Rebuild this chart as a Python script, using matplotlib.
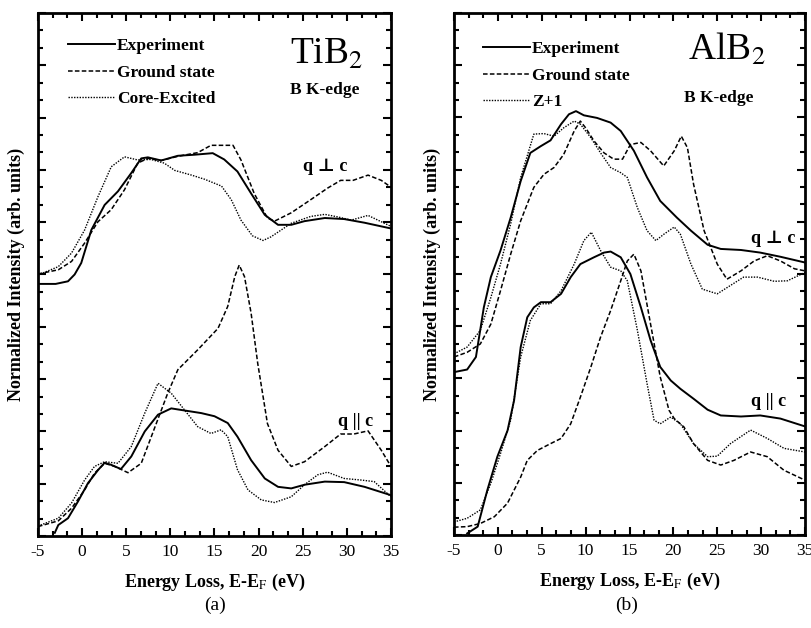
import matplotlib
matplotlib.use('Agg')
import matplotlib.pyplot as plt
from matplotlib.ticker import MultipleLocator, NullFormatter

plt.rcParams['font.family'] = ['Liberation Serif', 'DejaVu Serif']
plt.rcParams['mathtext.fontset'] = 'stix'
plt.rcParams['axes.unicode_minus'] = False
plt.rcParams['lines.solid_joinstyle'] = 'round'
plt.rcParams['lines.dash_joinstyle'] = 'round'

# ---- TiB2, B K-edge ----
# q perp c
ti_perp_exp_x = [-5, -3.0, -1.6, -0.85, -0.1, 1.04, 2.55, 4.06, 5.57, 6.7, 7.45, 8.96, 10.85, 12.7, 14.8, 16.1, 17.6, 19.15, 20.7, 22.2, 23.7, 25.2, 27.5, 29.7, 32, 35]
ti_perp_exp_y = [4.82, 4.82, 4.87, 5.0, 5.22, 5.85, 6.33, 6.59, 6.94, 7.22, 7.24, 7.18, 7.27, 7.29, 7.32, 7.2, 6.97, 6.55, 6.14, 5.95, 5.95, 6.02, 6.08, 6.06, 5.99, 5.88]
ti_perp_gs_x = [-5, -2.7, -1.2, 0.28, 1.8, 3.3, 4.8, 6.3, 7.45, 8.96, 10.85, 13.1, 14.6, 17.1, 18.0, 19.5, 21.0, 21.8, 23.7, 25.9, 27.8, 29.3, 30.7, 32.4, 33.9, 35]
ti_perp_gs_y = [5.01, 5.09, 5.25, 5.6, 6.01, 6.24, 6.62, 7.13, 7.22, 7.18, 7.26, 7.33, 7.47, 7.47, 7.19, 6.55, 6.08, 6.02, 6.18, 6.43, 6.65, 6.8, 6.8, 6.9, 6.8, 6.67]
ti_perp_ce_x = [-5, -2.7, -1.2, 0.28, 1.8, 3.3, 4.8, 6.3, 7.8, 9.3, 10.5, 12.4, 13.9, 15.8, 16.9, 18.0, 19.3, 20.5, 21.4, 23.7, 25.9, 27.5, 29.0, 30.5, 32.4, 35]
ti_perp_ce_y = [4.99, 5.15, 5.41, 5.85, 6.49, 7.06, 7.25, 7.19, 7.2, 7.13, 6.99, 6.9, 6.82, 6.69, 6.43, 6.04, 5.74, 5.65, 5.72, 5.98, 6.11, 6.15, 6.1, 6.04, 6.13, 5.92]
# q || c
ti_par_exp_x = [-3.1, -2.7, -1.6, -0.47, 0.66, 1.8, 2.55, 3.3, 4.4, 5.57, 7.1, 8.6, 10.1, 11.6, 13.5, 15.0, 16.5, 17.6, 19.15, 20.7, 22.2, 23.7, 25.2, 27.5, 29.7, 32, 35]
ti_par_exp_y = [0.06, 0.21, 0.34, 0.66, 1.01, 1.26, 1.4, 1.36, 1.28, 1.52, 2.0, 2.32, 2.44, 2.4, 2.35, 2.29, 2.16, 1.9, 1.45, 1.1, 0.94, 0.91, 0.98, 1.04, 1.03, 0.94, 0.78]
ti_par_gs_x = [-5, -2.7, -1.2, 0.28, 1.4, 2.55, 3.7, 5.2, 6.7, 8.2, 9.7, 10.85, 13.1, 15.4, 16.5, 17.3, 17.8, 18.4, 19.15, 19.9, 21.0, 22.2, 23.7, 25.2, 27.5, 29.3, 30.8, 32.4, 33.9, 35]
ti_par_gs_y = [0.18, 0.29, 0.53, 0.88, 1.2, 1.39, 1.33, 1.21, 1.39, 2.06, 2.73, 3.18, 3.56, 3.97, 4.39, 4.96, 5.18, 4.96, 4.26, 3.3, 2.15, 1.64, 1.33, 1.42, 1.71, 1.95, 1.95, 2.01, 1.64, 1.33]
ti_par_ce_x = [-5, -2.7, -1.2, 0.28, 1.4, 2.55, 4.06, 5.57, 7.1, 8.6, 10.1, 11.6, 13.1, 14.6, 15.75, 16.5, 17.6, 18.8, 20.3, 21.8, 23.7, 25.2, 26.7, 27.8, 29.7, 31.6, 33.1, 35]
ti_par_ce_y = [0.19, 0.34, 0.63, 1.07, 1.33, 1.42, 1.39, 1.71, 2.35, 2.92, 2.73, 2.41, 2.09, 1.96, 2.03, 1.9, 1.27, 0.88, 0.69, 0.64, 0.75, 0.98, 1.17, 1.22, 1.1, 1.07, 1.04, 0.75]

# ---- AlB2, B K-edge ----
# q perp c
al_perp_exp_x = [-5, -3.5, -2.5, -1.6, -0.8, 0.3, 1.46, 2.6, 3.7, 4.9, 6.0, 7.2, 8.1, 8.9, 9.8, 11.3, 12.85, 14.0, 15.5, 17.0, 18.5, 20.4, 22.0, 23.9, 25.4, 27.7, 29.9, 32.2, 35]
al_perp_exp_y = [3.12, 3.17, 3.41, 4.36, 4.94, 5.45, 6.08, 6.78, 7.32, 7.45, 7.56, 7.87, 8.06, 8.12, 8.04, 7.99, 7.9, 7.74, 7.36, 6.85, 6.4, 6.08, 5.83, 5.56, 5.48, 5.46, 5.41, 5.33, 5.22]
al_perp_gs_x = [-5, -3.5, -2.0, -0.8, 0.3, 1.46, 2.6, 4.1, 5.25, 6.4, 7.5, 8.7, 9.4, 10.0, 10.95, 12.1, 13.2, 14.2, 15.1, 16.3, 17.4, 18.9, 20.1, 20.9, 21.6, 22.3, 23.5, 25.0, 26.1, 27.7, 29.2, 30.7, 32.2, 33.8, 35]
al_perp_gs_y = [3.41, 3.5, 3.66, 4.04, 4.68, 5.38, 6.02, 6.66, 6.91, 7.04, 7.29, 7.74, 7.93, 7.8, 7.55, 7.32, 7.2, 7.2, 7.48, 7.52, 7.36, 7.07, 7.36, 7.64, 7.42, 6.72, 5.83, 5.19, 4.9, 5.06, 5.25, 5.35, 5.25, 5.1, 5.06]
al_perp_z1_x = [-5, -3.5, -2.0, -0.8, 0.3, 1.46, 2.6, 4.1, 5.25, 6.4, 7.5, 8.7, 9.4, 10.6, 11.7, 12.85, 14.0, 14.75, 15.9, 17.0, 18.0, 18.9, 20.1, 20.8, 22.0, 23.3, 25.0, 26.5, 28.0, 29.6, 31.5, 33.0, 35]
al_perp_z1_y = [3.47, 3.6, 3.92, 4.55, 5.19, 5.96, 6.85, 7.68, 7.69, 7.64, 7.8, 7.93, 7.87, 7.61, 7.32, 7.04, 6.94, 6.85, 6.27, 5.83, 5.64, 5.76, 5.9, 5.76, 5.19, 4.71, 4.62, 4.78, 4.94, 4.94, 4.86, 4.87, 5.03]
# q || c
al_par_exp_x = [-3.5, -2.3, -1.2, -0.06, 1.1, 1.85, 2.6, 3.35, 4.1, 4.9, 6.0, 7.2, 8.3, 9.4, 10.95, 12.1, 12.85, 14.0, 15.1, 16.3, 17.4, 18.5, 19.7, 20.8, 22.3, 23.9, 25.4, 27.7, 29.9, 32.2, 35]
al_par_exp_y = [0.03, 0.16, 0.86, 1.5, 2.0, 2.58, 3.6, 4.17, 4.36, 4.46, 4.46, 4.62, 4.94, 5.19, 5.32, 5.41, 5.43, 5.32, 5.0, 4.36, 3.73, 3.22, 2.96, 2.8, 2.61, 2.4, 2.29, 2.27, 2.29, 2.23, 2.08]
al_par_gs_x = [-5, -3.5, -2.0, -0.4, 1.1, 2.6, 3.35, 4.5, 6.0, 7.2, 8.3, 9.4, 10.6, 11.7, 12.85, 14.0, 14.75, 15.5, 16.3, 17.4, 18.5, 19.5, 20.1, 21.2, 22.3, 23.9, 25.4, 26.9, 28.8, 30.7, 32.6, 35]
al_par_gs_y = [0.15, 0.16, 0.22, 0.35, 0.61, 1.11, 1.43, 1.62, 1.75, 1.85, 2.13, 2.64, 3.22, 3.79, 4.3, 4.87, 5.25, 5.38, 5.06, 4.04, 3.03, 2.39, 2.23, 2.07, 1.75, 1.43, 1.34, 1.43, 1.59, 1.5, 1.24, 1.05]
al_par_z1_x = [-5, -3.5, -2.0, -0.8, 0.3, 1.46, 2.6, 3.7, 4.9, 6.0, 7.2, 8.7, 9.8, 10.65, 11.7, 12.85, 14.0, 14.75, 15.9, 17.0, 17.8, 18.5, 19.7, 20.8, 22.3, 23.9, 25.0, 26.5, 28.8, 30.7, 32.6, 35]
al_par_z1_y = [0.25, 0.32, 0.48, 0.99, 1.56, 2.2, 3.41, 4.11, 4.43, 4.43, 4.68, 5.19, 5.64, 5.8, 5.45, 5.13, 5.06, 4.87, 3.92, 2.9, 2.2, 2.13, 2.26, 2.13, 1.75, 1.5, 1.51, 1.75, 2.01, 1.85, 1.66, 1.59]

legend_a = ['Experiment', 'Ground state', 'Core-Excited']
legend_b = ['Experiment', 'Ground state', 'Z+1']

styles = [dict(color='black', lw=1.4, ls='-'),
          dict(color='black', lw=1.1, ls=(0, (3, 1.5))),
          dict(color='black', lw=1.0, ls=(0, (1, 1)))]

fig = plt.figure(figsize=(8.12, 6.28), dpi=100)
ax1 = fig.add_axes([0.0468, 0.1465, 0.4347, 0.8328])
ax2 = fig.add_axes([0.5591, 0.1481, 0.4323, 0.8312])


def setup(ax):
    ax.set_xlim(-5, 35)
    ax.set_ylim(0, 10)
    ax.xaxis.set_major_locator(MultipleLocator(5))
    ax.xaxis.set_minor_locator(MultipleLocator(5 / 3))
    ax.yaxis.set_major_locator(MultipleLocator(1))
    ax.yaxis.set_minor_locator(MultipleLocator(1 / 3))
    ax.yaxis.set_major_formatter(NullFormatter())
    ax.tick_params(which='both', direction='in', top=True, right=True, width=1.5)
    ax.tick_params(which='major', length=6)
    ax.tick_params(which='minor', length=3.5)
    ax.tick_params(axis='x', labelsize=12.5, pad=6)
    for s in ax.spines.values():
        s.set_linewidth(2)
    ax.set_xlabel(r'Energy Loss, E-E$_\mathrm{F}$ (eV)', fontsize=13, fontweight='bold', labelpad=8)
    ax.set_ylabel('Normalized Intensity (arb. units)', fontsize=13, fontweight='bold', labelpad=6)


setup(ax1)
setup(ax2)

# panel (a)
for (x, y), st, lab in zip([(ti_perp_exp_x, ti_perp_exp_y), (ti_perp_gs_x, ti_perp_gs_y), (ti_perp_ce_x, ti_perp_ce_y)], styles, legend_a):
    ax1.plot(x, y, label=lab, **st)
for (x, y), st in zip([(ti_par_exp_x, ti_par_exp_y), (ti_par_gs_x, ti_par_gs_y), (ti_par_ce_x, ti_par_ce_y)], styles):
    ax1.plot(x, y, **st)

# panel (b)
for (x, y), st, lab in zip([(al_perp_exp_x, al_perp_exp_y), (al_perp_gs_x, al_perp_gs_y), (al_perp_z1_x, al_perp_z1_y)], styles, legend_b):
    ax2.plot(x, y, label=lab, **st)
for (x, y), st in zip([(al_par_exp_x, al_par_exp_y), (al_par_gs_x, al_par_gs_y), (al_par_z1_x, al_par_z1_y)], styles):
    ax2.plot(x, y, **st)

for ax, lx, top in ((ax1, 0.085, 0.952), (ax2, 0.083, 0.946)):
    ax.legend(loc='upper left', bbox_to_anchor=(lx, top), frameon=False,
              handlelength=2.7, handletextpad=0.12,
              labelspacing=0.6, borderaxespad=0, borderpad=0,
              prop={'size': 12.5, 'weight': 'bold'})

ax1.text(0.714, 0.92, r'TiB$_2$', transform=ax1.transAxes, fontsize=27, ha='left', va='center')
ax1.text(0.714, 0.852, 'B K-edge', transform=ax1.transAxes, fontsize=12.5, fontweight='bold', ha='left', va='center')
ax1.text(0.75, 0.706, 'q ⊥ c', transform=ax1.transAxes, fontsize=13, fontweight='bold', ha='left', va='center')
ax1.text(0.85, 0.218, 'q || c', transform=ax1.transAxes, fontsize=13, fontweight='bold', ha='left', va='center')

ax2.text(0.667, 0.93, r'AlB$_2$', transform=ax2.transAxes, fontsize=27, ha='left', va='center')
ax2.text(0.655, 0.837, 'B K-edge', transform=ax2.transAxes, fontsize=12.5, fontweight='bold', ha='left', va='center')
ax2.text(0.845, 0.568, 'q ⊥ c', transform=ax2.transAxes, fontsize=13, fontweight='bold', ha='left', va='center')
ax2.text(0.845, 0.255, 'q || c', transform=ax2.transAxes, fontsize=13, fontweight='bold', ha='left', va='center')

fig.text(215 / 812, 1 - 605 / 628, '(a)', fontsize=14, ha='center', va='center')
fig.text(627 / 812, 1 - 605 / 628, '(b)', fontsize=14, ha='center', va='center')

fig.savefig('out.png', dpi=100)
